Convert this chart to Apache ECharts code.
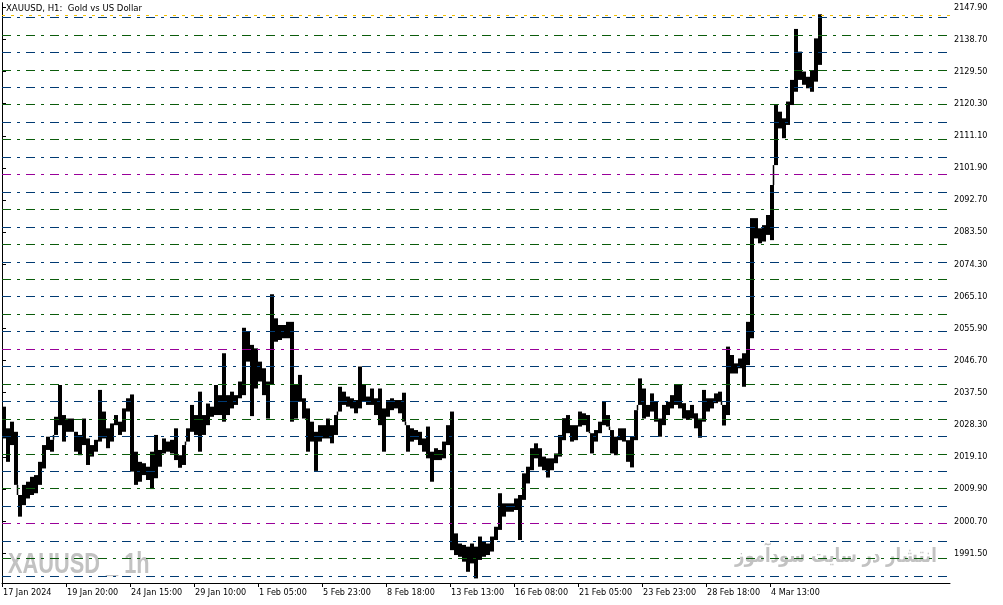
<!DOCTYPE html>
<html><head><meta charset="utf-8">
<script src="https://cdn.jsdelivr.net/npm/echarts@6/dist/echarts.min.js"></script>
<style>html,body{margin:0;padding:0;background:#fff}#c{width:1003px;height:605px}</style>
</head><body><div id="c"></div>
<script>
// hourly bars, each sample summarises 4 hourly bars (high / low)
const barStep = 4;
const highs = [
2033.5,2027.3,2029.2,2026.3,2008.2,2011.1,2012.0,2013.4,2013.9,2017.7,
2022.5,2024.9,2024.0,2030.6,2039.7,2031.1,2030.1,2030.1,2026.3,2025.4,
2030.1,2024.4,2022.5,2024.0,2038.3,2032.1,2027.3,2028.7,2031.1,2029.2,
2033.0,2035.9,2037.0,2020.6,2017.7,2017.3,2016.3,2020.6,2025.4,2021.1,
2024.4,2023.5,2024.0,2027.3,2019.6,2022.5,2027.3,2034.0,2031.1,2037.8,
2031.1,2034.4,2033.5,2039.7,2036.8,2048.8,2036.8,2037.8,2036.8,2040.7,
2056.1,2055.0,2051.2,2050.2,2046.4,2044.5,2040.7,2065.7,2058.8,2056.9,
2056.9,2057.8,2057.8,2039.7,2042.6,2035.9,2033.0,2029.2,2026.3,2028.2,
2028.2,2030.1,2028.2,2031.1,2039.2,2037.8,2036.4,2035.9,2035.4,2045.0,
2039.7,2036.4,2038.7,2035.9,2038.7,2033.0,2035.4,2035.9,2035.4,2035.4,
2037.5,2028.2,2027.3,2026.8,2026.3,2024.4,2027.8,2020.6,2021.6,2021.1,
2023.5,2028.2,2032.1,1997.2,1994.3,1993.9,1993.4,1994.3,1993.4,1996.3,
1994.8,1994.3,1996.3,1999.1,2008.7,2005.8,2005.8,2005.8,2007.2,2008.2,
2014.4,2016.3,2021.6,2023.0,2021.6,2019.2,2018.7,2018.7,2020.1,2025.4,
2030.2,2031.1,2028.2,2028.2,2032.1,2031.6,2031.1,2025.9,2026.8,2029.2,
2034.9,2031.1,2026.8,2024.9,2027.3,2027.3,2023.9,2024.9,2032.5,2041.6,
2038.7,2034.0,2037.3,2034.9,2030.1,2034.0,2034.9,2036.8,2039.7,2039.7,
2034.5,2032.5,2034.0,2031.6,2030.1,2038.3,2035.9,2035.9,2037.3,2037.8,
2034.0,2050.7,2048.3,2045.9,2047.3,2048.8,2057.8,2087.5,2087.5,2084.6,
2085.5,2088.4,2097.0,2119.9,2118.0,2116.1,2120.9,2127.1,2141.7,2135.2,
2129.5,2128.0,2129.9,2139.0,2145.9
];
const lows = [
2024.4,2017.7,2022.5,2011.1,2002.0,2005.3,2007.2,2008.2,2008.7,2011.1,
2015.8,2021.1,2020.6,2025.4,2028.2,2023.5,2026.3,2026.3,2020.6,2019.6,
2022.5,2016.8,2019.2,2020.6,2023.5,2024.4,2021.6,2023.5,2028.2,2025.4,
2026.3,2032.1,2014.9,2011.1,2012.0,2013.9,2012.5,2009.9,2013.0,2016.3,
2020.1,2020.6,2020.1,2018.2,2016.0,2016.8,2023.5,2026.3,2025.4,2020.6,
2025.4,2028.2,2030.6,2031.1,2031.1,2029.2,2031.1,2033.0,2034.0,2035.9,
2036.8,2046.4,2030.8,2038.7,2040.7,2036.8,2030.1,2039.7,2052.1,2052.6,
2053.1,2053.1,2029.2,2030.1,2034.9,2030.1,2020.6,2023.5,2015.1,2023.5,
2024.4,2024.4,2023.0,2025.4,2032.1,2034.0,2033.5,2033.0,2031.6,2033.0,
2034.9,2034.0,2034.0,2031.1,2028.2,2020.6,2030.6,2032.5,2033.0,2031.6,
2029.2,2020.6,2023.5,2024.0,2022.5,2020.6,2018.7,2012.0,2018.2,2018.2,
2018.7,2022.5,1992.4,1991.0,1990.5,1989.1,1986.2,1988.6,1984.3,1989.6,
1990.5,1991.0,1992.0,1995.3,1998.2,2002.0,2003.4,2003.4,2003.9,1995.3,
2006.8,2011.5,2015.3,2018.7,2016.3,2015.3,2013.2,2015.3,2017.3,2019.2,
2023.9,2025.9,2023.5,2023.9,2027.8,2028.2,2026.3,2020.1,2023.5,2025.9,
2028.2,2027.8,2020.1,2019.6,2023.9,2023.5,2017.7,2016.1,2023.9,2034.0,
2030.1,2030.6,2032.1,2029.2,2024.9,2028.2,2031.1,2033.0,2034.0,2033.0,
2030.1,2029.7,2030.1,2027.3,2024.6,2029.2,2032.1,2033.0,2034.5,2034.9,
2028.1,2031.1,2043.0,2043.0,2044.5,2039.2,2045.4,2053.1,2081.7,2080.3,
2080.8,2082.7,2081.2,2102.7,2113.2,2110.4,2114.2,2119.9,2123.7,2127.1,
2125.7,2124.7,2123.7,2126.6,2131.4
];
const xTickHours = [0,64,128,192,256,320,384,448,512,576,640,704,768];
const xTickLabels = ['17 Jan 2024','19 Jan 20:00','24 Jan 15:00','29 Jan 10:00','1 Feb 05:00','5 Feb 23:00','8 Feb 18:00','13 Feb 13:00','16 Feb 08:00','21 Feb 05:00','23 Feb 23:00','28 Feb 18:00','4 Mar 13:00'];
const yTickValues = [2147.90,2138.70,2129.50,2120.30,2111.10,2101.90,2092.70,2083.50,2074.30,2065.10,2055.90,2046.70,2037.50,2028.30,2019.10,2009.90,2000.70,1991.50];
const levelValues = [2145,2140,2135,2130,2125,2120,2115,2110,2105,2100,2095,2090,2085,2080,2075,2070,2065,2060,2055,2050,2045,2040,2035,2030,2025,2020,2015,2010,2005,2000,1995,1990,1985];
const priceLine = 2145.5;

const FONT = "'DejaVu Sans Condensed','DejaVu Sans',sans-serif";
function levelColor(v){ if (v % 50 === 0) return '#990099'; if (v % 10 === 0) return '#0b5c0b'; return '#003a73'; }

const chart = echarts.init(document.getElementById('c'), null, {renderer:'canvas'});
// each sample: [hour, high, low, nextHigh, nextLow]
const data = highs.map((h,i)=>{
  const nh = i < highs.length-1 ? highs[i+1] : h;
  const nl = i < highs.length-1 ? lows[i+1] : lows[i];
  return [i*barStep + barStep/2, h, lows[i], nh, nl];
});
const markData = levelValues.map(v=>({yAxis:v, lineStyle:{color:levelColor(v), type:[9,6,3,6], width:1}}));
markData.push({yAxis:priceLine, lineStyle:{color:'#f0c000', type:[3,6], width:1}});

chart.setOption({
  animation:false,
  backgroundColor:'#fff',
  grid:{left:2, top:3, width:948, height:580, containLabel:false},
  xAxis:{type:'value', min:0, max:948,
    axisLine:{show:true, lineStyle:{color:'#000', width:1}},
    splitLine:{show:false},
    axisTick:{show:true, customValues:xTickHours, length:4, lineStyle:{color:'#000'}},
    axisLabel:{customValues:xTickHours, formatter:v=>xTickLabels[xTickHours.indexOf(v)] || '', align:'left', margin:5, color:'#000', fontSize:9, fontFamily:FONT, padding:[0,0,0,1]}
  },
  yAxis:[{type:'value', position:'right', min:1982.99, max:2149.13, scale:true,
    axisLine:{show:true, lineStyle:{color:'#000', width:1}},
    splitLine:{show:false},
    axisTick:{show:true, customValues:yTickValues, length:4, lineStyle:{color:'#000'}},
    axisLabel:{customValues:yTickValues, formatter:v=>v.toFixed(2), margin:4, color:'#000', fontSize:9, fontFamily:FONT}
  },{type:'value', position:'left', min:1982.99, max:2149.13, axisLine:{show:true, lineStyle:{color:'#000'}}, axisTick:{show:false}, axisLabel:{show:false}, splitLine:{show:false}}],
  series:[
    {type:'line', data:[], yAxisIndex:0, z:1, markLine:{silent:true, symbol:'none', animation:false, label:{show:false}, data:markData}},
    {type:'custom', yAxisIndex:0, z:3, data:data, clip:true, encode:{x:0, y:[1,2]},
      renderItem:function(params, api){
        const x = api.value(0), hi = api.value(1), lo = api.value(2), nh = api.value(3), nl = api.value(4);
        const pHi = api.coord([x, hi]), pLo = api.coord([x, lo]);
        const w = api.size([barStep, 0])[0];
        const children = [{type:'rect', shape:{x:pHi[0]-w/2, y:pHi[1], width:w, height:Math.max(1, pLo[1]-pHi[1])}, style:{fill:'#000'}}];
        // thin connector to the next sample when the ranges do not overlap
        const ex = pHi[0] + w/2 - 0.5;
        if (nh < lo) {
          const a = api.coord([x, lo]), b = api.coord([x, nh]);
          children.push({type:'line', shape:{x1:ex, y1:a[1], x2:ex, y2:b[1]}, style:{stroke:'#000', lineWidth:1.5}});
        } else if (nl > hi) {
          const a = api.coord([x, hi]), b = api.coord([x, nl]);
          children.push({type:'line', shape:{x1:ex, y1:a[1], x2:ex, y2:b[1]}, style:{stroke:'#000', lineWidth:1.5}});
        }
        return {type:'group', children:children};
      }}
  ],
  graphic:[
    {type:'text', x:6, y:4, style:{text:'XAUUSD, H1:  Gold vs US Dollar', fill:'#000', font:"9.5px "+FONT, textVerticalAlign:'top'}},
    {type:'text', x:8, y:550, scaleX:0.726, z:0, style:{text:'XAUUSD _ 1h', fill:'#c2c2c2', font:"bold 30px 'Liberation Sans',Arial,sans-serif", textVerticalAlign:'top'}},
    {type:'text', x:735, y:547, scaleX:0.82, z:0, style:{text:'انتشار در سایت سودآموز', fill:'#c2c2c2', font:"bold 20px 'DejaVu Sans',sans-serif", textVerticalAlign:'top'}}
  ]
});
</script></body></html>
